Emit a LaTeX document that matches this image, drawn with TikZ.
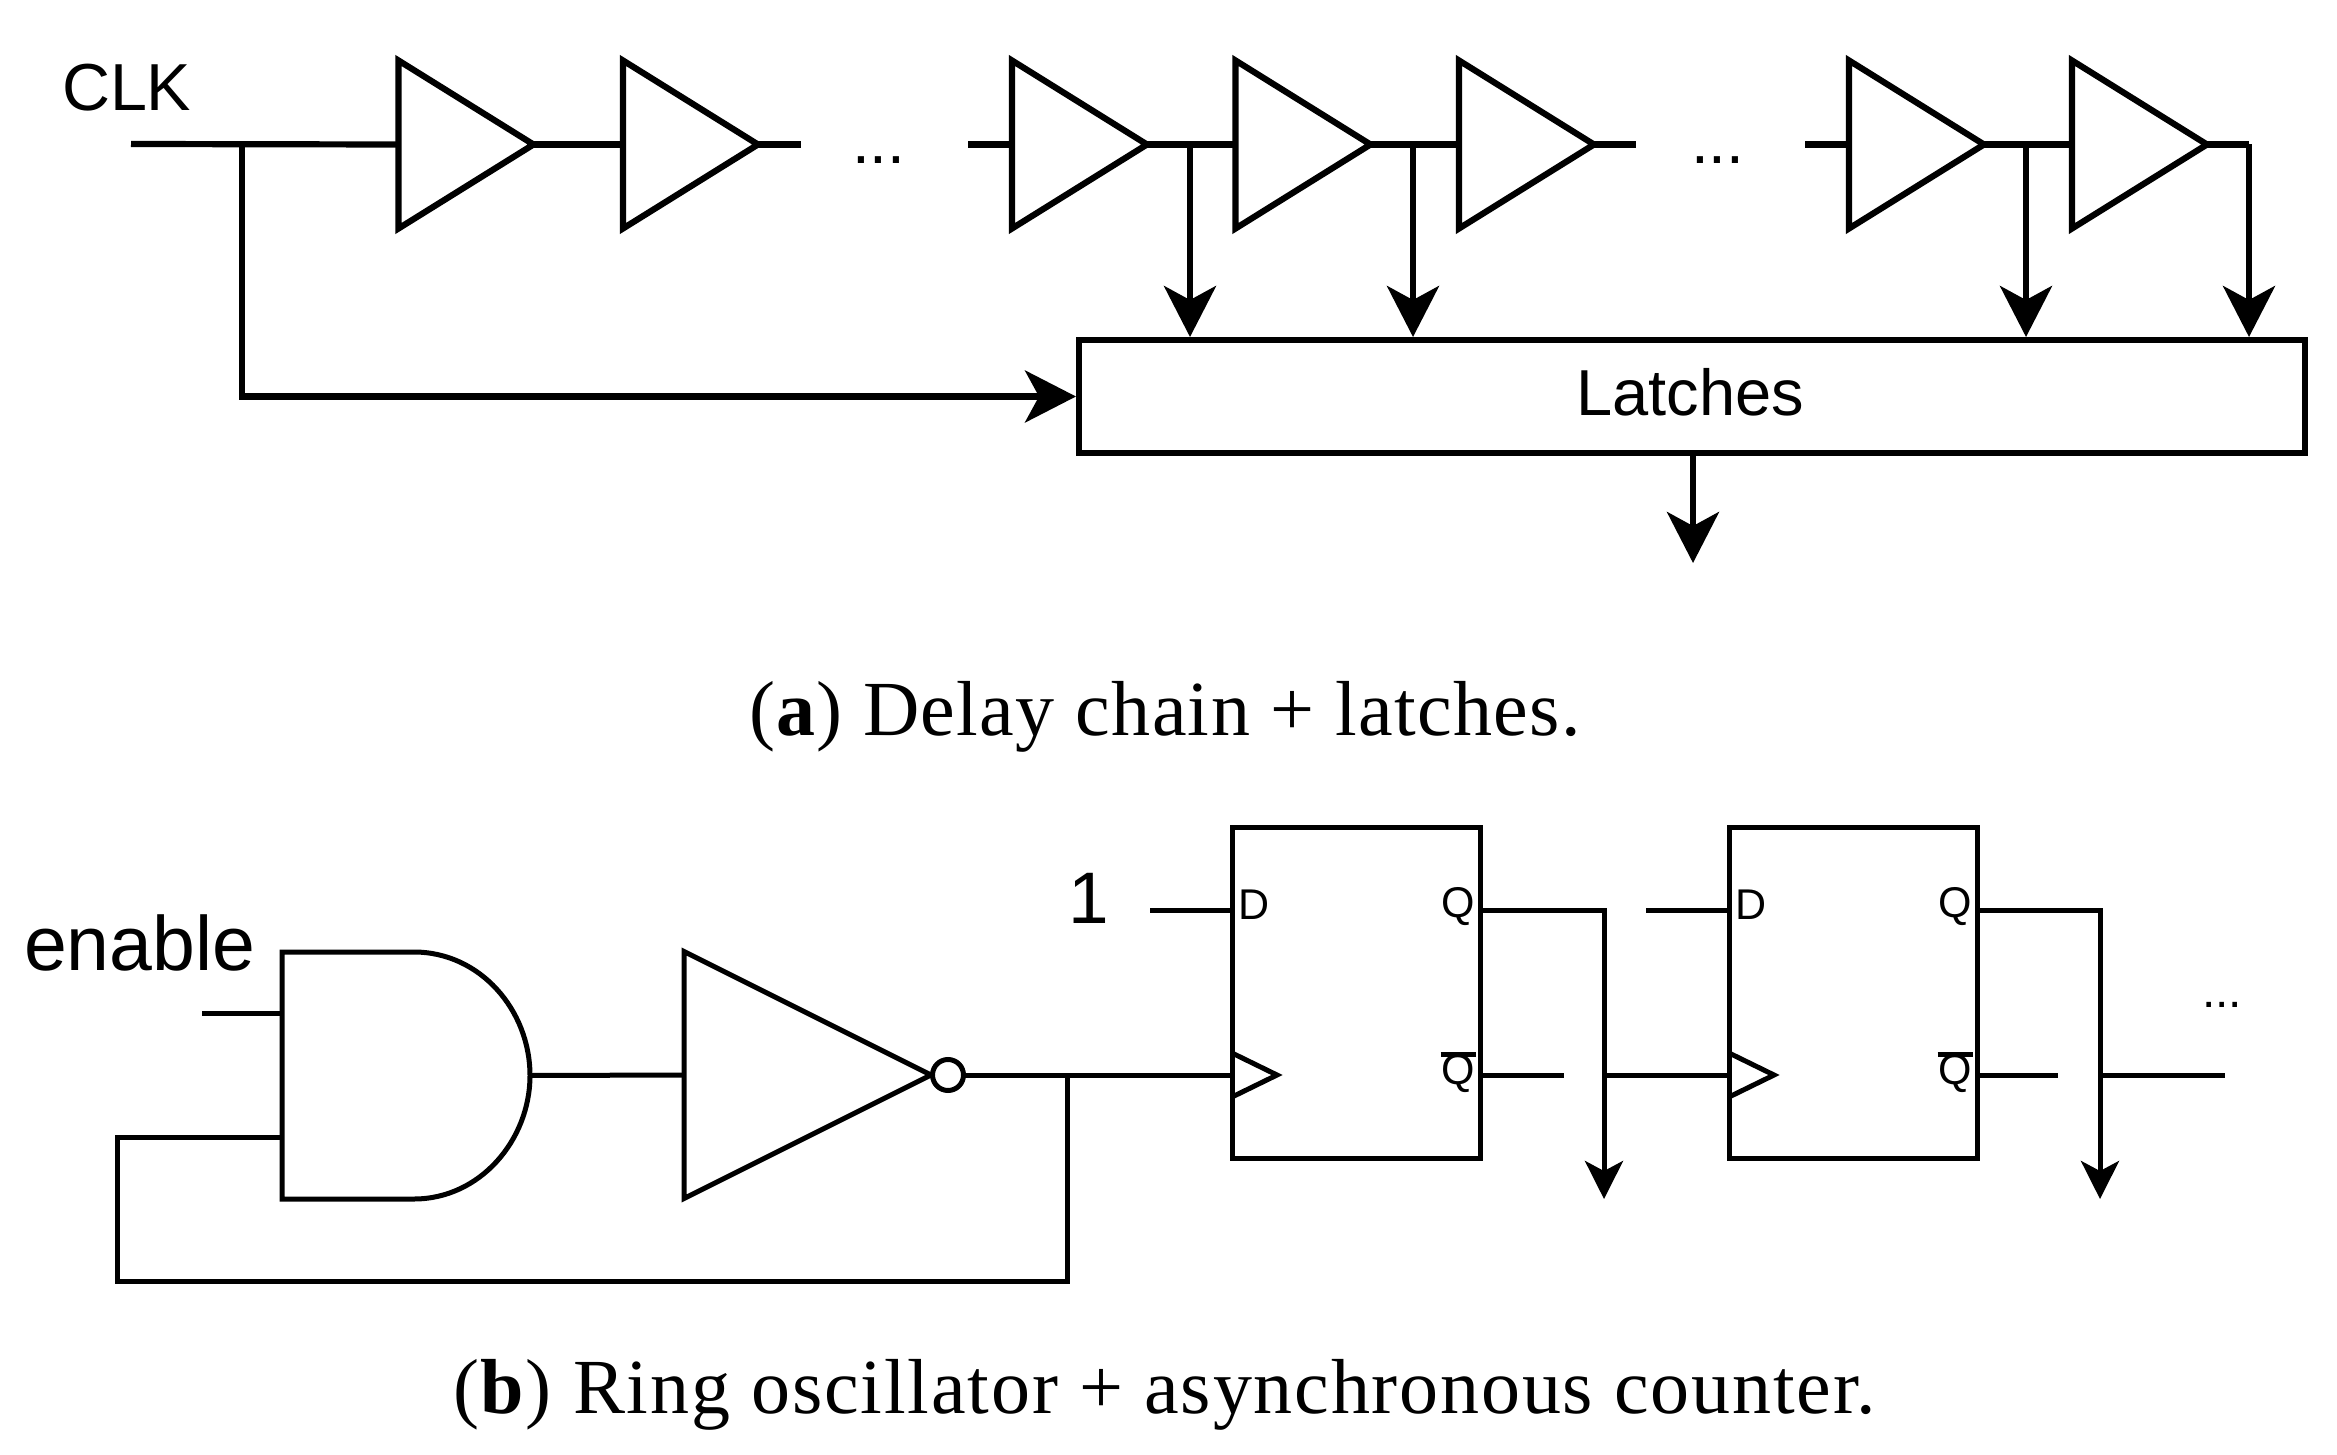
\documentclass[tikz,border=0pt]{standalone}
\usepackage{fontspec}
\setmainfont{Liberation Sans}
\newfontfamily\capfont[LetterSpace=1.7]{Liberation Serif}
\newfontfamily\capfontb[LetterSpace=2.3]{Liberation Serif}
\usetikzlibrary{arrows.meta,calc}
\tikzset{
  x=1pt,y=-1pt,
  pinbox/.style={inner sep=0pt,outer sep=0pt,minimum width=#1,minimum height=168pt,anchor=west},
  gatebox/.style={inner sep=0pt,outer sep=0pt,anchor=north west},
  wiretop/.style={line width=6.2pt,line join=miter},
  wirebot/.style={line width=5pt,line join=miter},
  bighead/.style={-{Stealth[length=51pt,width=52pt,inset=14pt]}},
  smallhead/.style={-{Stealth[length=38pt,width=38pt,inset=10pt]}},
  lab/.style={inner sep=0pt,outer sep=0pt,anchor=base west,font=\fontsize{#1}{#1}\selectfont},
  labe/.style={inner sep=0pt,outer sep=0pt,anchor=base east,font=\fontsize{#1}{#1}\selectfont},
  capt/.style={inner sep=0pt,outer sep=0pt,anchor=base west,font=#1\fontsize{78}{80}\selectfont},
}
\newcommand{\bufgate}[2]{%
  \node[pinbox=135pt] (#1) at (#2,144.5) {};
  \draw[wiretop] (#1.north west) -- (#1.east) -- (#1.south west) -- cycle;
}
\newcommand{\ffbox}[2]{%
  \node[gatebox,minimum width=248pt,minimum height=331pt] (#1) at (#2,827) {};
  \draw[wirebot] (#1.north west) rectangle (#1.south east);
  \coordinate (#1d) at (#2,910);
  \coordinate (#1c) at (#2,1075);
  \coordinate (#1q) at ($(#1d)+(248,0)$);
  \coordinate (#1n) at ($(#1c)+(248,0)$);
  \draw[wirebot] ($(#1c)+(0,-22)$) -- ($(#1c)+(45,0)$) -- ($(#1c)+(0,22)$);
  \node[lab=43] (#1Dl) at ($(#1d)+(6,9)$) {D};
  \node[labe=43] (#1Ql) at ($(#1q)+(-5,7)$) {Q};
  \node[labe=43] (#1Nl) at ($(#1n)+(-5,9)$) {Q};
  \draw[wirebot] ($(#1Nl.north west)+(-1,1)$) -- ($(#1Nl.north east)+(1,1)$);
}
\begin{document}
\begin{tikzpicture}
\useasboundingbox (0,0) rectangle (2337,1455);
% ---- (a)
\node[lab=66.5] (clk) at (62,111) {CLK};
\coordinate (in) at (131,144);
\coordinate (split) at (242,144);
\bufgate{t1}{398.5}
\bufgate{t2}{623}
\bufgate{t3}{1012}
\bufgate{t4}{1235.5}
\bufgate{t5}{1459}
\bufgate{t6}{1849}
\bufgate{t7}{2072}
\coordinate (s1) at (801,144.5);
\coordinate (s2) at (968,144.5);
\coordinate (s3) at (1636,144.5);
\coordinate (s4) at (1805,144.5);
\coordinate (e7) at (2249,144.5);
\node[lab=64] (d1) at (852,164) {...};
\node[lab=64] (d2) at (1691,164) {...};
\node[draw,line width=6.2pt,inner sep=0pt,outer sep=3pt,anchor=north west,minimum width=1226pt,minimum height=113pt] (lat) at (1076,337) {};
\node[inner sep=0pt,anchor=base,font=\fontsize{65}{65}\selectfont] (latt) at (1690,415) {Latches};
\draw[wiretop] (in) -- (t1.west);
\draw[wiretop] (t1.east) -- (t2.west);
\draw[wiretop] (t2.east) -- (s1);
\draw[wiretop] (s2) -- (t3.west);
\draw[wiretop] (t3.east) -- (t4.west);
\draw[wiretop] (t4.east) -- (t5.west);
\draw[wiretop] (t5.east) -- (s3);
\draw[wiretop] (s4) -- (t6.west);
\draw[wiretop] (t6.east) -- (t7.west);
\draw[wiretop] (t7.east) -- (e7);
\draw[wiretop,bighead] (split) |- (lat.west);
\coordinate (b1) at (1190,144.5);
\coordinate (b2) at (1413,144.5);
\coordinate (b3) at (2026,144.5);
\draw[wiretop,bighead] (b1) -- (b1 |- lat.north);
\draw[wiretop,bighead] (b2) -- (b2 |- lat.north);
\draw[wiretop,bighead] (b3) -- (b3 |- lat.north);
\draw[wiretop,bighead] (e7) -- (e7 |- lat.north);
\coordinate (lo) at (1693,563);
\draw[wiretop,bighead] (lo |- lat.south) -- (lo);
\node[capt=\capfont] (capa) at (749,735) {(\textbf{a}) Delay chain + latches.};
% ---- (b)
\node[lab=77] (en) at (24,970) {enable};
\node[lab=73] (one) at (1068,923) {1};
\node[gatebox,minimum width=248pt,minimum height=247pt] (and) at (282,952) {};
\draw[wirebot] (and.north west) -- (414,952) .. controls (480,952) and (530,1010) .. (and.east) .. controls (530,1140) and (480,1199) .. (414,1199) -- (and.south west) -- cycle;
\coordinate (eni) at (202,1013);
\coordinate (ani) at (282,1013);
\coordinate (fbi) at (282,1137);
\draw[wirebot] (eni) -- (ani);
\node[inner sep=0pt,outer sep=0pt,minimum width=247pt,minimum height=247pt,anchor=west] (inv) at (684,1075) {};
\draw[wirebot] (inv.north west) -- (inv.east) -- (inv.south west) -- cycle;
\node[circle,draw,line width=5pt,fill=white,inner sep=0pt,outer sep=0pt,minimum size=31pt] (bub) at (948,1075) {};
\draw[wirebot] (and.east) -- (inv.west);
\ffbox{f}{1232}
\ffbox{g}{1729}
\coordinate (j) at (1067,1075);
\draw[wirebot] (bub.east) -- (fc);
\draw[wirebot] (j) -- (1067,1281) -| (117,1137) -- (fbi);
\coordinate (oned) at (1150,910);
\draw[wirebot] (oned) -- (fd);
\coordinate (fdn) at (1604,1199);
\draw[wirebot,smallhead] (fq) -| (fdn);
\coordinate (gdn) at (2100,1199);
\draw[wirebot,smallhead] (gq) -| (gdn);
\coordinate (a1) at (1646,910);
\draw[wirebot] (a1) -- (gd);
\coordinate (a2) at (1564,1075);
\draw[wirebot] (fn) -- (a2);
\coordinate (a3) at (1604,1075);
\draw[wirebot] (a3) -- (gc);
\coordinate (a4) at (2058,1075);
\draw[wirebot] (gn) -- (a4);
\coordinate (a5) at (2100,1075);
\coordinate (a6) at (2225,1075);
\draw[wirebot] (a5) -- (a6);
\node[lab=48] (d3) at (2202,1007) {...};
\node[capt=\capfontb] (capb) at (453,1413) {(\textbf{b}) Ring oscillator + asynchronous counter.};
\end{tikzpicture}
\end{document}
